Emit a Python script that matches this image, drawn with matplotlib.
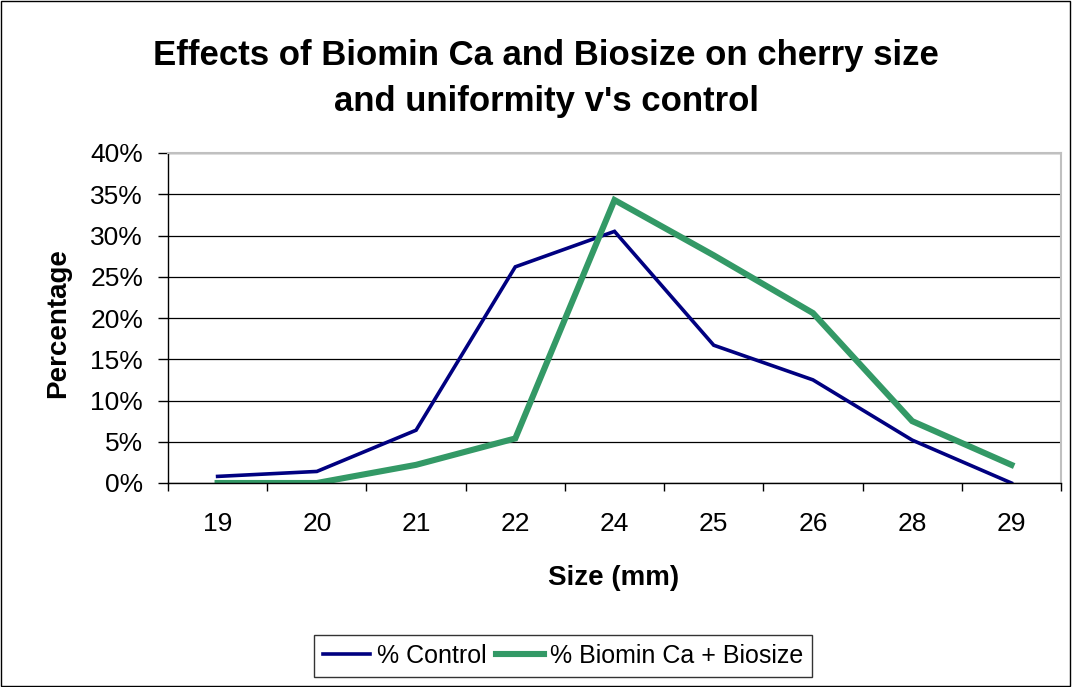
import matplotlib.pyplot as plt
from matplotlib.patches import Rectangle
from matplotlib.ticker import PercentFormatter

plt.rcParams['font.family'] = ['Liberation Sans', 'DejaVu Sans']

sizes = ['19', '20', '21', '22', '24', '25', '26', '28', '29']
control = [0.8, 1.4, 6.4, 26.2, 30.5, 16.7, 12.5, 5.2, 0.0]
biomin = [0.0, 0.0, 2.2, 5.4, 34.3, 27.6, 20.6, 7.5, 2.2]

fig = plt.figure(figsize=(10.73, 6.87), dpi=100)
ax = fig.add_axes([168/1073, 1-483/687, (1061-168)/1073, (483-153)/687])

x = range(len(sizes))
ax.plot(x, control, color='#000080', lw=2.6, label='% Control', solid_joinstyle='miter')
ax.plot(x, biomin, color='#339966', lw=4.4, label='% Biomin Ca + Biosize', solid_joinstyle='miter')

ax.set_xlim(-0.5, len(sizes) - 0.5)
ax.set_ylim(0, 40)
ax.set_yticks(range(0, 41, 5))
ax.yaxis.set_major_formatter(PercentFormatter(decimals=0))
ax.set_xticks(list(x))
ax.set_xticklabels(sizes)
ax.set_xticks([i - 0.5 for i in range(len(sizes) + 1)], minor=True)
ax.tick_params(axis='x', which='major', length=0, labelsize=19, pad=21)
ax.tick_params(axis='x', which='minor', length=6, width=1, direction='out')
ax.tick_params(axis='y', length=7, width=1, labelsize=19, pad=11)
ax.grid(axis='y', color='black', lw=0.9)
ax.set_axisbelow(True)
for s in ['top', 'right']:
    ax.spines[s].set_color('#c0c0c0')
    ax.spines[s].set_linewidth(1.5)
for s in ['left', 'bottom']:
    ax.spines[s].set_color('black')
    ax.spines[s].set_linewidth(1)

fig.text(546/1073, 1-55/687, 'Effects of Biomin Ca and Biosize on cherry size',
         ha='center', va='center', fontsize=25, fontweight='bold')
fig.text(546/1073, 1-101/687, "and uniformity v's control",
         ha='center', va='center', fontsize=25, fontweight='bold')
fig.text(58/1073, 1-323/687, 'Percentage', rotation=90, ha='center', va='center',
         fontsize=20, fontweight='bold')
fig.text(614/1073, 1-578/687, 'Size (mm)', ha='center', va='center',
         fontsize=20, fontweight='bold')

leg = fig.legend(loc='center', bbox_to_anchor=(563/1073, 1-656/687), ncol=2,
                 fontsize=18, frameon=True, fancybox=False, handlelength=1.9,
                 handletextpad=0.25, columnspacing=0.4, borderpad=0.35)
leg.get_frame().set_edgecolor('black')
leg.get_frame().set_linewidth(1)

fig.patches.append(Rectangle((0.001, 0.001), 0.996, 0.997, transform=fig.transFigure,
                             fill=False, edgecolor='black', lw=1))

fig.savefig('out.png', dpi=100)
